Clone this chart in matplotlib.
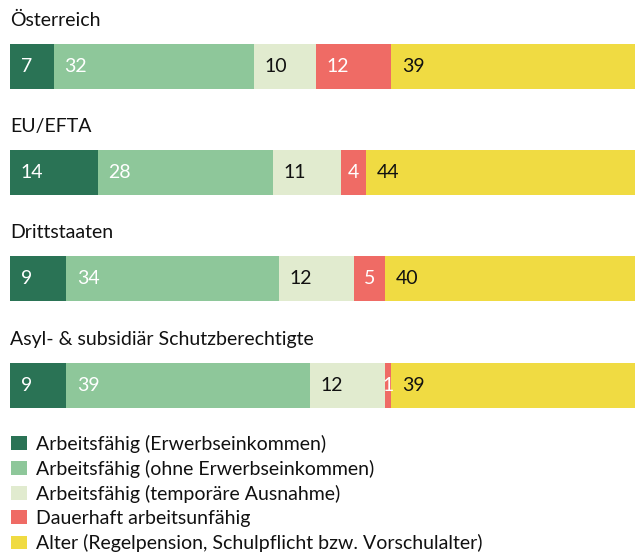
import matplotlib.pyplot as plt
from matplotlib.patches import Patch

plt.rcParams["font.family"] = ["Lato", "DejaVu Sans"]

# -----------------------------
# DATEN (Anteile in %)
# -----------------------------
gruppen = ["Österreich", "EU/EFTA", "Drittstaaten", "Asyl- & subsidiär Schutzberechtigte"]
kategorien = [
    "Arbeitsfähig (Erwerbseinkommen)",
    "Arbeitsfähig (ohne Erwerbseinkommen)",
    "Arbeitsfähig (temporäre Ausnahme)",
    "Dauerhaft arbeitsunfähig",
    "Alter (Regelpension, Schulpflicht bzw. Vorschulalter)",
]
erwerb = [7, 14, 9, 9]
ohne_erwerb = [32, 28, 34, 39]
temporaer = [10, 11, 12, 12]
arbeitsunfaehig = [12, 4, 5, 1]
alter = [39, 44, 40, 39]

farben = ["#2a7355", "#8ec79a", "#e1ebcf", "#ef6b65", "#f0db42"]
textfarben = ["white", "white", "#111111", "white", "#111111"]

W, H = 638, 553
FS = 14
fig = plt.figure(figsize=(W / 100, H / 100), dpi=100)
ax = fig.add_axes([10 / W, 0, 625 / W, 1])

# 1 Einheit auf der y-Achse = Abstand zwischen zwei Balken
zeile = 106.2
y_oben = -66.5 / zeile
ax.set_ylim(y_oben + H / zeile, y_oben)
ax.set_xlim(0, 100)
ax.axis("off")

serien = [erwerb, ohne_erwerb, temporaer, arbeitsunfaehig, alter]
links = [0] * len(gruppen)
for werte, farbe, tf in zip(serien, farben, textfarben):
    ax.barh(range(len(gruppen)), werte, left=links, height=45 / zeile,
            color=farbe, linewidth=0)
    for i, (l, w) in enumerate(zip(links, werte)):
        if w < 5:
            ax.text(l + w / 2, i, str(w), ha="center", va="center",
                    color=tf, fontsize=FS)
        else:
            ax.text(l + 1.7, i, str(w), ha="left", va="center",
                    color=tf, fontsize=FS)
    links = [l + w for l, w in zip(links, werte)]

for i, name in enumerate(gruppen):
    ax.text(0, i - 46 / zeile, name, ha="left", va="center",
            fontsize=FS, color="#111111")

handles = [Patch(facecolor=f, edgecolor="none") for f in farben]
fig.legend(handles, kategorien, loc="upper left",
           bbox_to_anchor=(11 / W, 1 - 435 / H), frameon=False,
           fontsize=FS, handlelength=0.82, handleheight=0.72,
           handletextpad=0.45, labelspacing=0.36, borderpad=0,
           borderaxespad=0, labelcolor="#111111")

fig.savefig("out.png", dpi=100)
